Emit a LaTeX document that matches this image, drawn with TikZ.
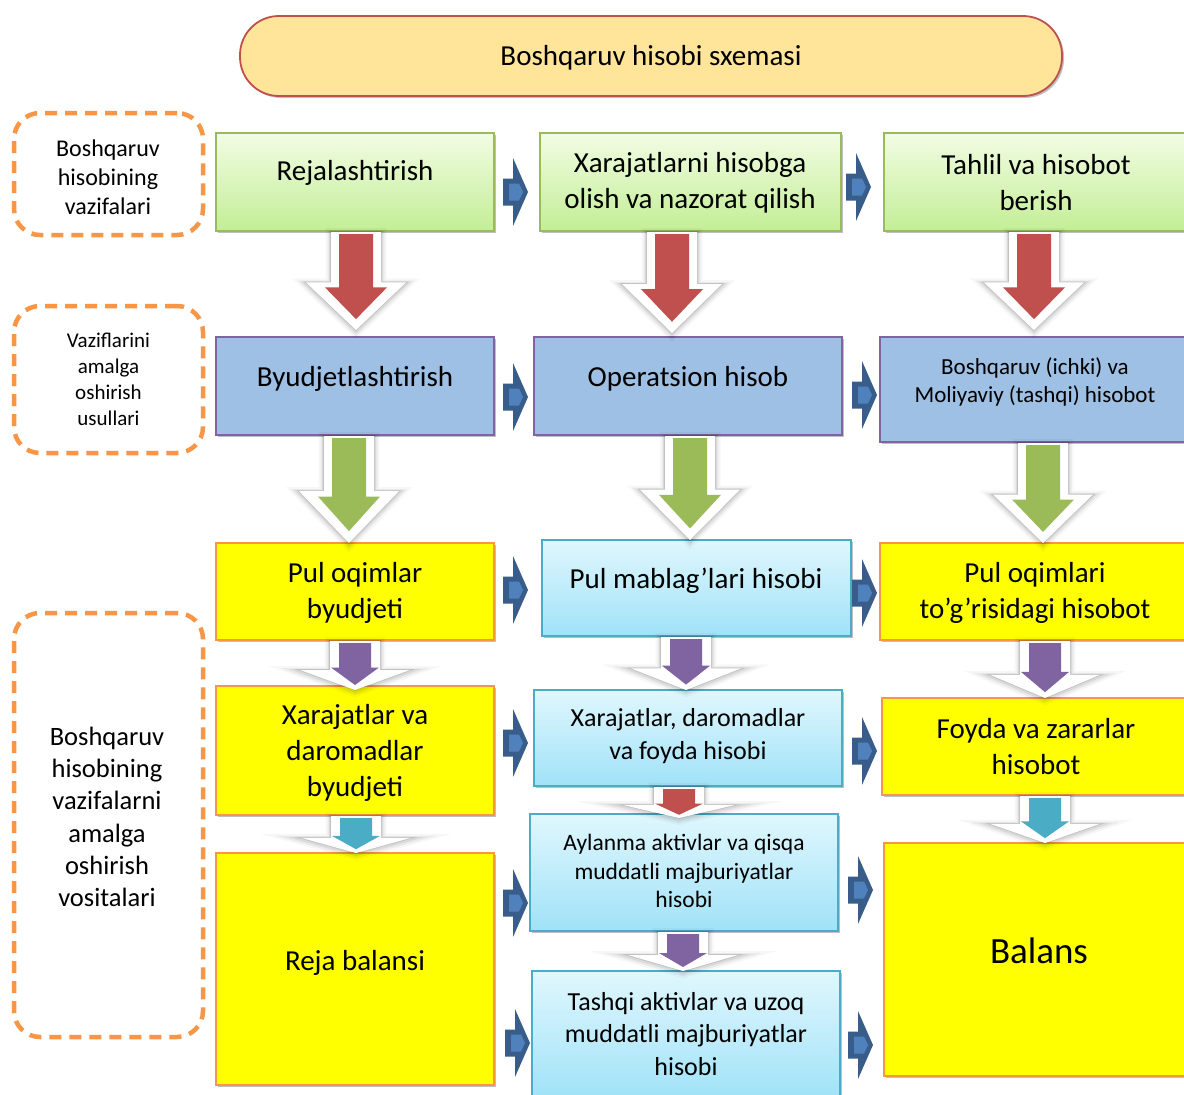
\documentclass[tikz,border=0pt]{standalone}
\usepackage{fontspec}
\setmainfont{Carlito}
\usetikzlibrary{shadows}
\definecolor{ttlfill}{HTML}{FFE599}
\definecolor{ttlline}{HTML}{C0504D}
\definecolor{dashor}{HTML}{F79646}
\definecolor{grline}{HTML}{9BBB59}
\definecolor{grtop}{RGB}{242,252,228}
\definecolor{grbot}{RGB}{195,238,150}
\definecolor{bluefill}{RGB}{157,192,228}
\definecolor{blueline}{HTML}{8064A2}
\definecolor{yelfill}{RGB}{255,255,0}
\definecolor{yelline}{HTML}{F79646}
\definecolor{cytop}{RGB}{224,247,253}
\definecolor{cybot}{RGB}{160,226,248}
\definecolor{cyline}{HTML}{4BACC6}
\definecolor{arrdark}{HTML}{385D8A}
\definecolor{arrlight}{HTML}{4F81BD}
\definecolor{redarr}{HTML}{C0504D}
\definecolor{greenarr}{HTML}{9BBB59}
\definecolor{purplearr}{HTML}{8064A2}
\definecolor{cyanarr}{HTML}{4BACC6}

\newcommand\rarr[2]{%
 \fill[arrdark] (#1,{#2-13.5}) -- ({#1+10},{#2-13.5}) -- ({#1+10},{#2-34}) -- ({#1+25},#2) -- ({#1+10},{#2+34}) -- ({#1+10},{#2+13.5}) -- (#1,{#2+13.5}) -- cycle;
 \fill[arrlight] ({#1+6},{#2-8.5}) -- ({#1+16},{#2-8.5}) -- ({#1+20},#2) -- ({#1+16},{#2+8.5}) -- ({#1+6},{#2+8.5}) -- cycle;
}
\newcommand\bigdarr[4]{%
 \pgfmathsetmacro\arrB{#2+0.52*(#3-#2)}%
 \pgfmathsetmacro\arrIB{#2+0.57*(#3-#2)}%
 \pgfmathsetmacro\arrIT{#3-0.11*(#3-#2)}%
 \fill[white, glow] ({#1-25},{#2+1}) -- ({#1+25},{#2+1}) -- ({#1+25},\arrB) -- ({#1+50},\arrB) -- (#1,#3) -- ({#1-50},\arrB) -- ({#1-25},\arrB) -- cycle;
 \fill[#4] ({#1-17},{#2+3}) -- ({#1+17},{#2+3}) -- ({#1+17},\arrIB) -- ({#1+31},\arrIB) -- (#1,\arrIT) -- ({#1-31},\arrIB) -- ({#1-17},\arrIB) -- cycle;
}
\newcommand\smalldarr[4]{%
 \pgfmathsetmacro\arrB{#2+0.6*(#3-#2)}%
 \pgfmathsetmacro\arrIB{#2+0.55*(#3-#2)}%
 \pgfmathsetmacro\arrIT{#2+0.9*(#3-#2)}%
 \fill[white, glow] ({#1-25},{#2+1}) -- ({#1+25},{#2+1}) -- ({#1+25},\arrB) -- ({#1+55},\arrB) -- (#1,#3) -- ({#1-55},\arrB) -- ({#1-25},\arrB) -- cycle;
 \fill[#4] ({#1-16},{#2+3}) -- ({#1+16},{#2+3}) -- ({#1+16},\arrIB) -- ({#1+24},\arrIB) -- (#1,\arrIT) -- ({#1-24},\arrIB) -- ({#1-16},\arrIB) -- cycle;
}

\begin{document}
\begin{tikzpicture}[x=1pt,y=-1pt,
 shad/.style={drop shadow={shadow xshift=2pt, shadow yshift=-2pt, opacity=0.25, fill=black}},
 glow/.style={line join=round,
   preaction={draw=black, opacity=0.03, line width=11pt, transform canvas={yshift=-1.5pt}},
   preaction={draw=black, opacity=0.05, line width=7pt, transform canvas={yshift=-1.5pt}},
   preaction={draw=black, opacity=0.07, line width=4pt, transform canvas={yshift=-1pt}},
   preaction={draw=black, opacity=0.10, line width=1.8pt}},
 basebox/.style={rectangle, inner sep=0pt, shad},
 greenbox/.style={basebox, draw=grline, line width=1.8pt, top color=grtop, bottom color=grbot},
 bluebox/.style={basebox, draw=blueline, line width=1.5pt, fill=bluefill},
 yelbox/.style={basebox, draw=yelline, line width=1.8pt, fill=yelfill},
 cybox/.style={basebox, draw=cyline, line width=1.5pt, top color=cytop, bottom color=cybot},
 dashbox/.style={rectangle, draw=dashor, line width=4.5pt, dash pattern=on 12pt off 8pt, rounded corners=26pt, align=center, inner sep=0pt},
 ttlbox/.style={rectangle, draw=ttlline, line width=1.8pt, fill=ttlfill, rounded corners=39pt, shad, inner sep=0pt},
 t29/.style={align=center, inner sep=0pt, font=\fontsize{29}{36}\selectfont},
 t26/.style={align=center, inner sep=0pt, font=\fontsize{26}{32.5}\selectfont},
 t23/.style={align=center, inner sep=0pt, font=\fontsize{23.5}{28.7}\selectfont},
 t36/.style={align=center, inner sep=0pt, font=\fontsize{37}{44}\selectfont}
]
\clip (0,0) rectangle (1184,1095);
\fill[white] (0,0) rectangle (1184,1095);

% left dashed boxes
\node[dashbox, minimum width=189pt, minimum height=122pt] (L1) at (108.5,174) {};
\node[align=center, inner sep=0pt, font=\fontsize{24}{29}\selectfont] (L1t) at (108,177) {Boshqaruv\\hisobining\\vazifalari};
\node[dashbox, minimum width=189pt, minimum height=147pt, font=\fontsize{21}{26}\selectfont] (L2) at (108.5,379.5) {Vaziflarini\\amalga\\oshirish\\usullari};
\node[dashbox, minimum width=189pt, minimum height=424pt] (L3) at (108.5,825) {};
\node[align=center, inner sep=0pt, font=\fontsize{26.5}{32.3}\selectfont] (L3t) at (107,817) {Boshqaruv\\hisobining\\vazifalarni\\amalga\\oshirish\\vositalari};

% title
\node[ttlbox, minimum width=822pt, minimum height=80pt] (T) at (651,56) {};
\node[align=center, inner sep=0pt, font=\fontsize{29}{35}\selectfont] (Tt) at (651,58) {Boshqaruv hisobi sxemasi};

% row 1
\node[greenbox, minimum width=278pt, minimum height=98pt] (A1) at (355,182) {};
\node[greenbox, minimum width=301pt, minimum height=98pt] (A2) at (690.5,182) {};
\node[greenbox, minimum width=304pt, minimum height=98pt] (A3) at (1036,182) {};
\node[t29] (A1t) at (355,173) {Rejalashtirish};
\node[t29] (A2t) at (690,183) {Xarajatlarni hisobga\\olish va nazorat qilish};
\node[t29] (A3t) at (1036,183) {Tahlil va hisobot\\berish};

% row 2
\node[bluebox, minimum width=278pt, minimum height=98pt] (B1) at (355,386) {};
\node[bluebox, minimum width=308pt, minimum height=98pt] (B2) at (688,386) {};
\node[bluebox, minimum width=310pt, minimum height=105pt] (B3) at (1035,389.5) {};
\node[t29] (B1t) at (355,379) {Byudjetlashtirish};
\node[t29] (B2t) at (688,379) {Operatsion hisob};
\node[align=center, inner sep=0pt, font=\fontsize{23}{28}\selectfont] (B3t) at (1035,382) {Boshqaruv (ichki) va\\Moliyaviy (tashqi) hisobot};

% row 3
\node[yelbox, minimum width=278pt, minimum height=97pt] (C1) at (355,591.5) {};
\node[cybox, minimum width=309pt, minimum height=96pt] (C2) at (696.5,588) {};
\node[yelbox, minimum width=310pt, minimum height=97pt] (C3) at (1035,591.5) {};
\node[t29] (C1t) at (355,593) {Pul oqimlar\\byudjeti};
\node[t29] (C2t) at (696,581) {Pul mablag’lari hisobi};
\node[t29] (C3t) at (1035,593) {Pul oqimlari\\to’g’risidagi hisobot};

% row 4
\node[yelbox, minimum width=278pt, minimum height=129pt] (D1) at (355,750.5) {};
\node[cybox, minimum width=308pt, minimum height=96pt] (D2) at (688,738) {};
\node[yelbox, minimum width=308pt, minimum height=97pt] (D3) at (1036,746.5) {};
\node[t29] (D1t) at (355,753) {Xarajatlar va\\daromadlar\\byudjeti};
\node[t26] (D2t) at (688,736) {Xarajatlar, daromadlar\\va foyda hisobi};
\node[t29] (D3t) at (1036,747) {Foyda va zararlar\\hisobot};

% row 5
\node[yelbox, minimum width=278pt, minimum height=232pt] (E1) at (355,969) {};
\node[cybox, minimum width=308pt, minimum height=117pt] (E2) at (684,872.5) {};
\node[yelbox, minimum width=310pt, minimum height=233pt] (E3) at (1039,959.5) {};
\node[cybox, minimum width=308pt, minimum height=129pt] (F2) at (686,1035.5) {};
\node[t29] (E1t) at (355,963) {Reja balansi};
\node[t23] (E2t) at (684,871) {Aylanma aktivlar va qisqa\\muddatli majburiyatlar\\hisobi};
\node[t36] (E3t) at (1039,951) {Balans};
\node[t26] (F2t) at (686,1034) {Tashqi aktivlar va uzoq\\muddatli majburiyatlar\\hisobi};

% right arrows
\rarr{503}{192}
\rarr{846}{187}
\rarr{503}{397}
\rarr{852}{395}
\rarr{503}{590}
\rarr{852}{593}
\rarr{503}{743}
\rarr{852}{751}
\rarr{503}{903}
\rarr{848}{890}
\rarr{505}{1043}
\rarr{848}{1045}

% big down arrows
\bigdarr{356}{231}{330}{redarr}
\bigdarr{672}{231}{333}{redarr}
\bigdarr{1034}{231}{330}{redarr}
\bigdarr{349}{435}{543}{greenarr}
\bigdarr{690}{435}{540}{greenarr}
\bigdarr{1043}{442}{543}{greenarr}

% small down arrows
\smalldarr{355}{640}{690}{purplearr}
\smalldarr{686}{636}{690}{purplearr}
\smalldarr{1045}{640}{698}{purplearr}
\smalldarr{356}{815}{853}{cyanarr}
\smalldarr{679}{786}{818}{redarr}
\smalldarr{1045}{795}{843}{cyanarr}
\smalldarr{683}{931}{971}{purplearr}
\end{tikzpicture}
\end{document}
